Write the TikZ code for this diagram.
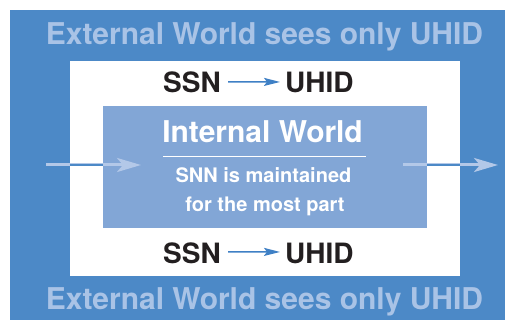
\documentclass[tikz,border=0pt]{standalone}
\usepackage{fontspec}
\setmainfont{TeX Gyre Heros}
\usetikzlibrary{arrows.meta}

\definecolor{outerblue}{HTML}{4C89C7}
\definecolor{innerblue}{HTML}{82A6D6}
\definecolor{paleblue}{HTML}{A9C3E6}
\definecolor{arrowblue}{HTML}{B3C8E8}
\definecolor{darkblue}{HTML}{3F80C5}
\definecolor{inkblack}{HTML}{231F20}

\begin{document}
\begin{tikzpicture}[
  x=1pt, y=1pt,
  exttext/.style={font=\bfseries\fontsize{30}{30}\selectfont, text=paleblue, inner sep=0pt, anchor=base},
  idtext/.style={font=\bfseries\fontsize{28}{28}\selectfont, text=inkblack, inner sep=0pt},
  intext/.style={font=\bfseries\fontsize{20}{20}\selectfont, text=white, inner sep=0pt, anchor=base},
  bigarrow/.style={arrowblue, line width=3pt, -{Stealth[length=24pt, width=14pt, inset=6pt]}},
  smallarrow/.style={darkblue, line width=1.5pt, -{Stealth[length=16pt, width=8pt, inset=3pt]}},
]

\useasboundingbox (0,0) rectangle (505,321);

% the three worlds
\fill [outerblue] (10,1) rectangle (505,311);
\fill [white] (70,45) rectangle (460,260);
\fill [innerblue] (103,93) rectangle (427,215);

\node [exttext] (exttop) at (264.5,276) {External World sees only UHID};
\node [exttext] (extbot) at (264.5,12) {External World sees only UHID};

% mapping rows
\node [idtext, anchor=base east] (ssntop) at (221,228) {SSN};
\node [idtext, anchor=base west] (uhidtop) at (285,228) {UHID};
\draw [smallarrow] ([xshift=7pt,yshift=1pt]ssntop.east) -- ([xshift=-5pt,yshift=1pt]uhidtop.west);

\node [idtext, anchor=base east] (ssnbot) at (221,58) {SSN};
\node [idtext, anchor=base west] (uhidbot) at (285,58) {UHID};
\draw [smallarrow] ([xshift=7pt,yshift=1pt]ssnbot.east) -- ([xshift=-5pt,yshift=1pt]uhidbot.west);

% internal world
\node [intext, font=\bfseries\fontsize{30}{30}\selectfont] (inttitle) at (262.5,178.5) {Internal World};
\draw [white, line width=1pt] (163,164) coordinate (rulel) -- (366,164) coordinate (ruler);
\node [intext] (intline1) at (263.5,138) {SNN is maintained};
\node [intext] (intline2) at (265,109) {for the most part};

% flow arrows
\coordinate (inl) at (46,156);
\coordinate (inr) at (141,156);
\coordinate (outl) at (403,156);
\coordinate (outr) at (498,156);
\draw [bigarrow] (inl) -- (inr);
\draw [bigarrow] (outl) -- (outr);
\draw [outerblue, line width=2.2pt] (70,156) -- (103,156);
\draw [outerblue, line width=2.2pt] (427,156) -- (460,156);

\end{tikzpicture}
\end{document}
